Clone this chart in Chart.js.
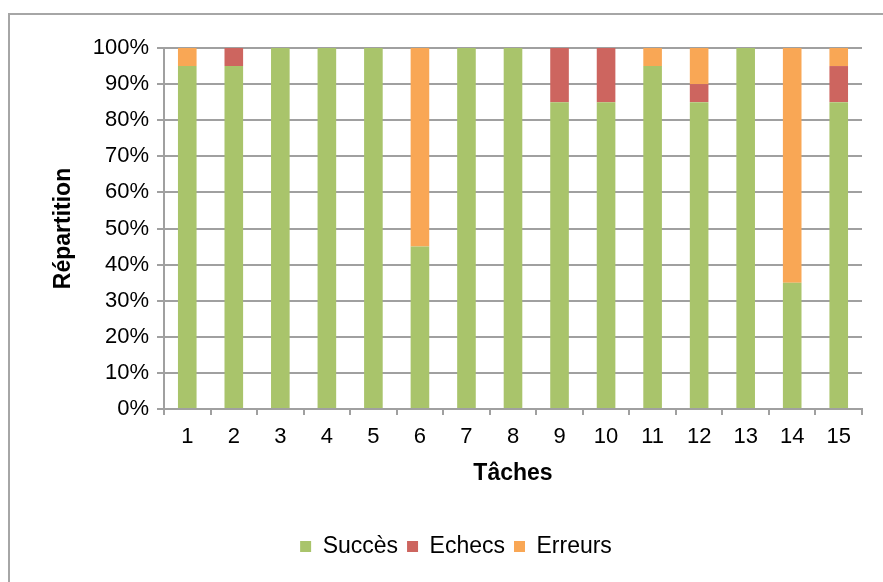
<!DOCTYPE html>
<html>
<head>
<meta charset="utf-8">
<script src="https://cdn.jsdelivr.net/npm/chart.js@4"></script>
<style>
  body { margin: 0; background: #fff; overflow: hidden; }
  #frame {
    position: absolute; left: 8px; top: 13px; width: 900px; height: 600px;
    border: 2px solid #a6a6a6; box-sizing: border-box;
  }
  #wrap { position: absolute; left: 0; top: 0; width: 883px; height: 582px; }
</style>
</head>
<body>
<div id="frame"></div>
<div id="wrap"><canvas id="chart"></canvas></div>
<script>
const taches = ["1", "2", "3", "4", "5", "6", "7", "8", "9", "10", "11", "12", "13", "14", "15"];
const succes = [95, 95, 100, 100, 100, 45, 100, 100, 85, 85, 95, 85, 100, 35, 85];
const echecs = [0, 5, 0, 0, 0, 0, 0, 0, 15, 15, 0, 5, 0, 0, 10];
const erreurs = [5, 0, 0, 0, 0, 55, 0, 0, 0, 0, 5, 10, 0, 65, 5];

Chart.defaults.font.family = "'Liberation Sans', Arial, sans-serif";
Chart.defaults.color = '#000';

const chart = new Chart(document.getElementById("chart"), {
  type: 'bar',
  data: {
    labels: taches,
    datasets: [
      { label: 'Succès', data: succes, backgroundColor: '#a9c46b' },
      { label: 'Echecs', data: echecs, backgroundColor: '#cd655f' },
      { label: 'Erreurs', data: erreurs, backgroundColor: '#f9a755' }
    ]
  },
  options: {
    responsive: true,
    maintainAspectRatio: false,
    animation: false,
    layout: { padding: { left: 50, top: 48, right: 21, bottom: 14 } },
    datasets: { bar: { barPercentage: 0.4, categoryPercentage: 1 } },
    plugins: {
      legend: {
        position: 'bottom',
        labels: {
          font: { size: 23 },
          boxWidth: 11, boxHeight: 11,
          padding: 9,
          color: '#000'
        }
      },
      tooltip: { enabled: false }
    },
    scales: {
      x: {
        stacked: true,
        grid: { drawOnChartArea: false, offset: true, color: '#a0a0a0', lineWidth: 2, tickLength: 6 },
        border: { color: '#a0a0a0', width: 2 },
        ticks: { font: { size: 22 }, padding: 9, maxRotation: 0 },
        title: { display: true, text: 'Tâches', font: { size: 23, weight: 'bold' }, padding: { top: 0, bottom: 39 } },
        afterFit: (s) => { s.height = 117; }
      },
      y: {
        stacked: true,
        min: 0, max: 100,
        grid: { color: '#a0a0a0', lineWidth: 2, tickLength: 7 },
        border: { color: '#a0a0a0', width: 2 },
        ticks: { stepSize: 10, font: { size: 22 }, padding: 8, callback: (v) => v + '%' },
        title: { display: true, text: 'Répartition', font: { size: 23, weight: 'bold' }, padding: { top: 0, bottom: 0 } },
        afterFit: (s) => { s.width = 114; }
      }
    }
  }
});
</script>
</body>
</html>
